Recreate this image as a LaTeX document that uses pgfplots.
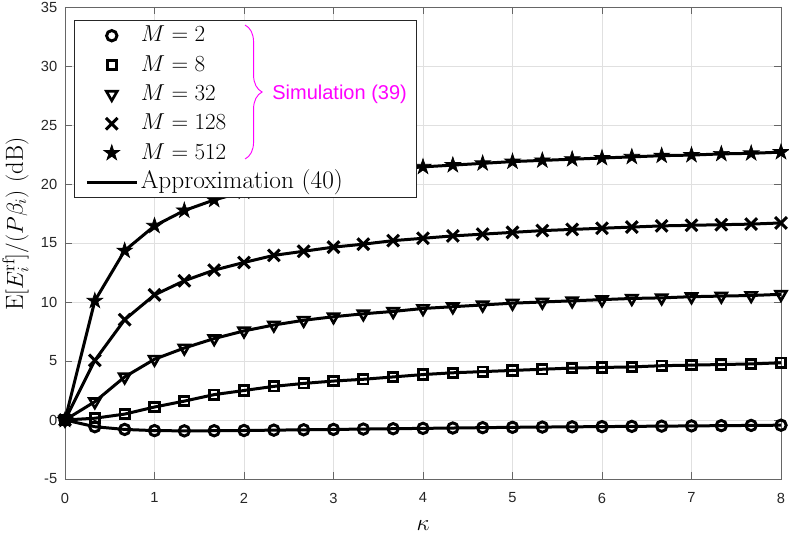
\documentclass[border=0pt]{standalone}
\usepackage{fontspec}
\usepackage{pgfplots}
\usepackage{pgfplotstable}
\pgfplotsset{compat=1.18}
\usetikzlibrary{calc,decorations.pathreplacing,plotmarks}
\newfontfamily\hel{Liberation Sans}
\definecolor{axgray}{rgb}{0.15,0.15,0.15}
\definecolor{gridgray}{rgb}{0.88,0.88,0.88}
\definecolor{mag}{rgb}{1,0,1}

\pgfdeclareplotmark{pentastar}{%
  \pgfpathmoveto{\pgfpointpolar{90}{\pgfplotmarksize}}%
  \pgfpathlineto{\pgfpointpolar{126}{0.382*\pgfplotmarksize}}%
  \pgfpathlineto{\pgfpointpolar{162}{\pgfplotmarksize}}%
  \pgfpathlineto{\pgfpointpolar{198}{0.382*\pgfplotmarksize}}%
  \pgfpathlineto{\pgfpointpolar{234}{\pgfplotmarksize}}%
  \pgfpathlineto{\pgfpointpolar{270}{0.382*\pgfplotmarksize}}%
  \pgfpathlineto{\pgfpointpolar{306}{\pgfplotmarksize}}%
  \pgfpathlineto{\pgfpointpolar{342}{0.382*\pgfplotmarksize}}%
  \pgfpathlineto{\pgfpointpolar{18}{\pgfplotmarksize}}%
  \pgfpathlineto{\pgfpointpolar{54}{0.382*\pgfplotmarksize}}%
  \pgfpathclose
  \pgfusepathqfillstroke
}

\pgfplotstableread{
x       m2     m8    m32    m128   m512
0       0      0     0      0      0
0.3333 -0.57   0.15  1.55   5.05   10.1
0.6667 -0.80   0.50  3.65   8.50   14.35
1      -0.90   1.10  5.15   10.6   16.45
1.3333 -0.92   1.60  6.10   11.8   17.75
1.6667 -0.91   2.15  6.90   12.7   18.65
2      -0.89   2.50  7.55   13.35  19.35
2.3333 -0.86   2.85  8.05   13.95  19.9
2.6667 -0.83   3.10  8.45   14.3   20.35
3      -0.80   3.30  8.75   14.65  20.7
3.3333 -0.77   3.45  9.00   14.9   21.0
3.6667 -0.74   3.65  9.20   15.2   21.25
4      -0.71   3.85  9.45   15.4   21.45
4.3333 -0.68   4.00  9.60   15.6   21.6
4.6667 -0.65   4.10  9.75   15.75  21.75
5      -0.62   4.20  9.90   15.9   21.9
5.3333 -0.60   4.30  10.0   16.05  22.0
5.6667 -0.58   4.40  10.1   16.15  22.1
6      -0.56   4.45  10.2   16.25  22.2
6.3333 -0.54   4.50  10.3   16.35  22.3
6.6667 -0.52   4.60  10.35  16.45  22.4
7      -0.50   4.65  10.45  16.5   22.45
7.3333 -0.48   4.70  10.5   16.55  22.55
7.6667 -0.46   4.75  10.55  16.6   22.6
8      -0.44   4.85  10.65  16.7   22.7
}\datatab

\begin{document}
\begin{tikzpicture}
\begin{axis}[
  name=ax,
  scale only axis, width=537pt, height=354pt,
  xmin=0, xmax=8, ymin=-5, ymax=35,
  xtick={0,1,...,8}, ytick={-5,0,5,10,15,20,25,30,35},
  grid=major, major grid style={gridgray, line width=0.6pt},
  axis line style={black!60, line width=0.7pt},
  tick style={black!60, line width=0.7pt},
  tick align=inside, major tick length=5pt,
  tick label style={font=\hel\fontsize{11}{13}\selectfont, text=axgray},
  /pgf/number format/assume math mode=true,
  xticklabel style={yshift=-6.8pt},
  yticklabel style={xshift=-2.3pt},
  xlabel={$\kappa$},
  ylabel={$\mathrm{E}\bigl[E_i^{\mathrm{rf}}\bigr]/(P\beta_i)\ (\mathrm{dB})$},
  every axis x label/.style={at={(axis description cs:0.5,0)}, yshift=-34.6pt, anchor=center, font=\fontsize{19}{22}\selectfont},
  every axis y label/.style={at={(axis description cs:-0.059,0.54)}, rotate=90, anchor=base, font=\fontsize{18.5}{21}\selectfont},
  clip=false, clip marker paths=true,
  legend style={at={(axis cs:0.2236,33.83)}, anchor=north west, draw=none, fill=none, inner sep=0pt,
    font=\fontsize{19}{22}\selectfont, row sep=0pt,
    nodes={inner sep=2pt, text height=13.5pt, text depth=4.5pt},
    /tikz/every odd column/.append style={column sep=0pt}},
  legend cell align=left,
  legend image code/.code={\draw[mark repeat=2,mark phase=2,#1] plot coordinates {(0pt,0pt)(18.75pt,0pt)(37.5pt,0pt)};},
  mylegimg/.style={legend image code/.code={\draw[mark repeat=2,mark phase=2,##1] plot coordinates {(0pt,0pt)(18.75pt,0pt)(37.5pt,0pt)};}},
]
\addplot[only marks, mylegimg, mark=o, mark size=3.9pt, mark options={line width=2.2pt, black}] table[x=x,y=m2]{\datatab};
\addlegendentry{$M=2$}
\addplot[only marks, mylegimg, mark=square, mark size=3.5pt, mark options={line width=2.1pt, black}] table[x=x,y=m8]{\datatab};
\addlegendentry{$M=8$}
\addplot[only marks, mylegimg, mark=triangle, mark size=4.7pt, mark options={rotate=180, line width=2pt, black}] table[x=x,y=m32]{\datatab};
\addlegendentry{$M=32$}
\addplot[only marks, mylegimg, mark=x, mark size=6.2pt, mark options={line width=2.3pt, black}] table[x=x,y=m128]{\datatab};
\addlegendentry{$M=128$}
\addplot[only marks, mylegimg, mark=pentastar, mark size=6.2pt, mark options={fill=black, draw=black, line width=0.5pt}] table[x=x,y=m512]{\datatab};
\addlegendentry{$M=512$}

\addplot[black, line width=2.25pt, forget plot] table[x=x,y=m2]{\datatab};
\addplot[black, line width=2.25pt, forget plot] table[x=x,y=m8]{\datatab};
\addplot[black, line width=2.25pt, forget plot] table[x=x,y=m32]{\datatab};
\addplot[black, line width=2.25pt, forget plot] table[x=x,y=m128]{\datatab};
\addplot[black, line width=2.25pt] table[x=x,y=m512]{\datatab};
\addlegendentry{Approximation (40)}

\draw[black!85, line width=0.6pt, fill=white] (axis cs:0.1006,33.9) rectangle (axis cs:3.924,18.9);
\draw[mag, line width=0.7pt, decorate, decoration={brace, amplitude=12.75pt}] (axis cs:2.012,33.47) -- (axis cs:2.012,22.12);
\node[anchor=west, text=mag, font=\hel\fontsize{15}{18}\selectfont, inner sep=0pt] at (axis cs:2.314,27.63) {Simulation (39)};
\end{axis}
\pgfresetboundingbox
\path ($(ax.south west)+(-48.75pt,-41.25pt)$) rectangle ($(ax.north east)+(6pt,5.25pt)$);
\end{tikzpicture}
\end{document}
